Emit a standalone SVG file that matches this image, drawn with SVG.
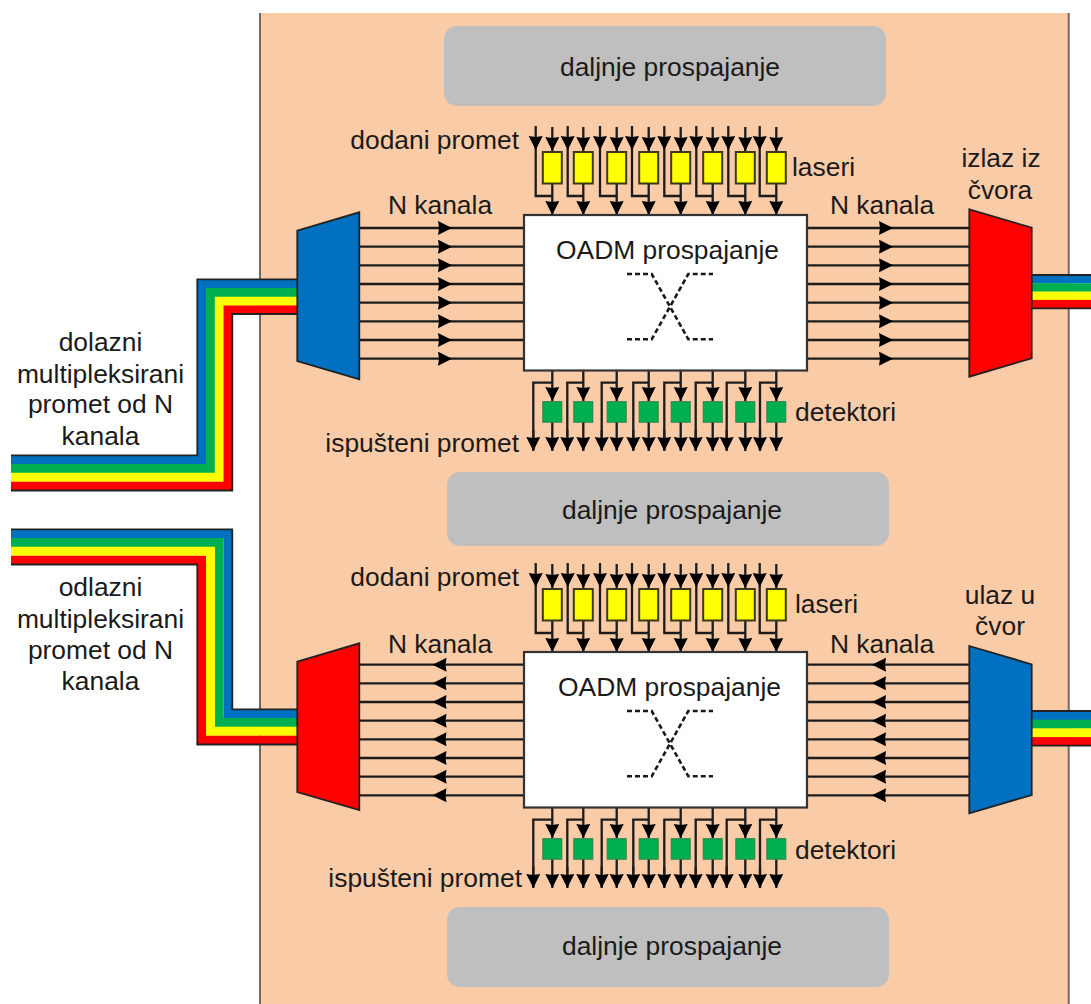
<svg xmlns="http://www.w3.org/2000/svg" width="1091" height="1004" viewBox="0 0 1091 1004">
<style>
text{font-family:"Liberation Sans",Arial,sans-serif;font-size:26.4px;fill:#1a1a1a}
.m{text-anchor:middle}.e{text-anchor:end}
.l{stroke:#1c1c1c;stroke-width:2.3;fill:none}
.a{marker-end:url(#h)}.k{marker-mid:url(#h)}
.box{fill:#fff;stroke:#333;stroke-width:2.2}
.gray{fill:#bfbfbf}
.y{fill:#ffff00;stroke:#3a3a1a;stroke-width:2}
.g{fill:#00b050;stroke:#2f7f4a;stroke-width:1}
.blue{fill:#0070c0;stroke:#222;stroke-width:1.8}
.red{fill:#ff0000;stroke:#222;stroke-width:1.8}
.r{fill:none;stroke-width:8.9;stroke-miterlimit:10}
.edge{fill:none;stroke:#222;stroke-width:1.8}
.d{fill:none;stroke:#1a1a1a;stroke-width:2.6;stroke-dasharray:5 3}
</style>
<defs>
<marker id="h" markerUnits="userSpaceOnUse" markerWidth="15" markerHeight="15" refX="14" refY="7" orient="auto"><path d="M0,0L14,7L0,14L1,7Z" fill="#000"/></marker>
<g id="c-add">
<path class="l" d="M535.7,150V196H552.3M567.7,150V196H583.3M600,150V196H616.7M632,150V196H648.7M664.3,150V196H680.7M696.3,150V196H712.7M728.3,150V196H745.3M759.7,150V196H776.3"/>
<line class="l a" x1="535.7" y1="126" x2="535.7" y2="150"/><line class="l a" x1="567.7" y1="126" x2="567.7" y2="150"/><line class="l a" x1="600" y1="126" x2="600" y2="150"/><line class="l a" x1="632" y1="126" x2="632" y2="150"/><line class="l a" x1="664.3" y1="126" x2="664.3" y2="150"/><line class="l a" x1="696.3" y1="126" x2="696.3" y2="150"/><line class="l a" x1="728.3" y1="126" x2="728.3" y2="150"/><line class="l a" x1="759.7" y1="126" x2="759.7" y2="150"/>
<line class="l a" x1="552.3" y1="127" x2="552.3" y2="151"/><line class="l a" x1="583.3" y1="127" x2="583.3" y2="151"/><line class="l a" x1="616.7" y1="127" x2="616.7" y2="151"/><line class="l a" x1="648.7" y1="127" x2="648.7" y2="151"/><line class="l a" x1="680.7" y1="127" x2="680.7" y2="151"/><line class="l a" x1="712.7" y1="127" x2="712.7" y2="151"/><line class="l a" x1="745.3" y1="127" x2="745.3" y2="151"/><line class="l a" x1="776.3" y1="127" x2="776.3" y2="151"/>
<line class="l a" x1="552.3" y1="184" x2="552.3" y2="215"/><line class="l a" x1="583.3" y1="184" x2="583.3" y2="215"/><line class="l a" x1="616.7" y1="184" x2="616.7" y2="215"/><line class="l a" x1="648.7" y1="184" x2="648.7" y2="215"/><line class="l a" x1="680.7" y1="184" x2="680.7" y2="215"/><line class="l a" x1="712.7" y1="184" x2="712.7" y2="215"/><line class="l a" x1="745.3" y1="184" x2="745.3" y2="215"/><line class="l a" x1="776.3" y1="184" x2="776.3" y2="215"/>
</g>
<g id="c-drop">
<path class="l" d="M552.3,382.700H533.3V450M583.3,382.700H567.3V450M616.7,382.700H601.7V450M648.7,382.700H633.3V450M680.7,382.700H664.3V450M712.7,382.700H695.7V450M745.3,382.700H726.7V450M776.3,382.700H760V450"/>
<line class="l a" x1="533.3" y1="430" x2="533.3" y2="451"/><line class="l a" x1="567.3" y1="430" x2="567.3" y2="451"/><line class="l a" x1="601.7" y1="430" x2="601.7" y2="451"/><line class="l a" x1="633.3" y1="430" x2="633.3" y2="451"/><line class="l a" x1="664.3" y1="430" x2="664.3" y2="451"/><line class="l a" x1="695.7" y1="430" x2="695.7" y2="451"/><line class="l a" x1="726.7" y1="430" x2="726.7" y2="451"/><line class="l a" x1="760" y1="430" x2="760" y2="451"/>
<line class="l a" x1="552.3" y1="371" x2="552.3" y2="401"/><line class="l a" x1="583.3" y1="371" x2="583.3" y2="401"/><line class="l a" x1="616.7" y1="371" x2="616.7" y2="401"/><line class="l a" x1="648.7" y1="371" x2="648.7" y2="401"/><line class="l a" x1="680.7" y1="371" x2="680.7" y2="401"/><line class="l a" x1="712.7" y1="371" x2="712.7" y2="401"/><line class="l a" x1="745.3" y1="371" x2="745.3" y2="401"/><line class="l a" x1="776.3" y1="371" x2="776.3" y2="401"/>
<line class="l a" x1="552.3" y1="422" x2="552.3" y2="451"/><line class="l a" x1="583.3" y1="422" x2="583.3" y2="451"/><line class="l a" x1="616.7" y1="422" x2="616.7" y2="451"/><line class="l a" x1="648.7" y1="422" x2="648.7" y2="451"/><line class="l a" x1="680.7" y1="422" x2="680.7" y2="451"/><line class="l a" x1="712.7" y1="422" x2="712.7" y2="451"/><line class="l a" x1="745.3" y1="422" x2="745.3" y2="451"/><line class="l a" x1="776.3" y1="422" x2="776.3" y2="451"/>
</g>
<g id="lasers"><rect class="y" x="542.8" y="152" width="19" height="31.500"/><rect class="y" x="573.8" y="152" width="19" height="31.500"/><rect class="y" x="607.200" y="152" width="19" height="31.500"/><rect class="y" x="639.200" y="152" width="19" height="31.500"/><rect class="y" x="671.200" y="152" width="19" height="31.500"/><rect class="y" x="703.200" y="152" width="19" height="31.500"/><rect class="y" x="735.800" y="152" width="19" height="31.500"/><rect class="y" x="766.800" y="152" width="19" height="31.500"/></g>
<g id="dets"><rect class="g" x="542.8" y="401.700" width="19" height="20.500"/><rect class="g" x="573.8" y="401.700" width="19" height="20.500"/><rect class="g" x="607.200" y="401.700" width="19" height="20.500"/><rect class="g" x="639.200" y="401.700" width="19" height="20.500"/><rect class="g" x="671.200" y="401.700" width="19" height="20.500"/><rect class="g" x="703.200" y="401.700" width="19" height="20.500"/><rect class="g" x="735.800" y="401.700" width="19" height="20.500"/><rect class="g" x="766.800" y="401.700" width="19" height="20.500"/></g>
<path id="cross" class="d" d="M627,274H651.700L688.300,339.300H713M627,339.300H651.700L688.300,274H713"/>
</defs>
<rect x="260" y="13" width="808.700" height="1000" fill="#facba7"/>
<path d="M260,13V1004M1068.700,13V1004" fill="none" stroke="#6a6a6a" stroke-width="2"/>

<g id="ribbon-in-top">
<path class="r" stroke="#0070c0" d="M11,459.700H201.700V283.700H298"/><path class="r" stroke="#00b050" d="M11,468.500H210.500V292.500H298"/><path class="r" stroke="#ffff00" d="M11,477.300H219.300V301.300H298"/><path class="r" stroke="#ff0000" d="M11,486.100H228V310H298"/>
<path class="edge" d="M11,455.300H197.300V279.300H298M298,314H232.300V490.500H11"/>
</g>
<g id="ribbon-out-left">
<path class="r" stroke="#0070c0" d="M11,533.700H228V713.700H298"/><path class="r" stroke="#00b050" d="M11,542.500H219.200V722.500H298"/><path class="r" stroke="#ffff00" d="M11,551.300H210.400V731.300H298"/><path class="r" stroke="#ff0000" d="M11,560.100H201.600V740.100H298"/>
<path class="edge" d="M11,529.300H232.300V709.300H298M298,744.500H197.300V564.500H11"/>
</g>
<g id="ribbon-right-top">
<rect x="1031" y="275" width="60" height="8.500" fill="#0070c0"/><rect x="1031" y="283.300" width="60" height="8.500" fill="#00b050"/><rect x="1031" y="291.600" width="60" height="8.500" fill="#ffff00"/><rect x="1031" y="299.900" width="60" height="8.500" fill="#ff0000"/>
<path class="edge" d="M1031,275H1091M1031,308.300H1091"/>
</g>
<g id="ribbon-right-bottom">
<rect x="1031" y="711" width="60" height="9" fill="#0070c0"/><rect x="1031" y="719.700" width="60" height="9" fill="#00b050"/><rect x="1031" y="728.400" width="60" height="9" fill="#ffff00"/><rect x="1031" y="737.100" width="60" height="8.600" fill="#ff0000"/>
<path class="edge" d="M1031,711H1091M1031,745.700H1091"/>
</g>

<g id="connectors">
<use href="#c-add"/><use href="#c-drop"/>
<use href="#c-add" y="437"/><use href="#c-drop" y="437"/>
<g id="top-left">
<path class="l k" d="M359,228H452H524"/><path class="l k" d="M359,246.700H452H524"/><path class="l k" d="M359,265.300H452H524"/><path class="l k" d="M359,284H452H524"/><path class="l k" d="M359,302.700H452H524"/><path class="l k" d="M359,321.300H452H524"/><path class="l k" d="M359,340H452H524"/><path class="l k" d="M359,358.700H452H524"/>
</g>
<g id="top-right">
<path class="l k" d="M807,228H893H969"/><path class="l k" d="M807,246.700H893H969"/><path class="l k" d="M807,265.300H893H969"/><path class="l k" d="M807,284H893H969"/><path class="l k" d="M807,302.700H893H969"/><path class="l k" d="M807,321.300H893H969"/><path class="l k" d="M807,340H893H969"/><path class="l k" d="M807,358.700H893H969"/>
</g>
<g id="bottom-left">
<path class="l k" d="M524,664.700H432.500H359"/><path class="l k" d="M524,683.300H432.500H359"/><path class="l k" d="M524,702H432.500H359"/><path class="l k" d="M524,720.700H432.500H359"/><path class="l k" d="M524,739.300H432.500H359"/><path class="l k" d="M524,758H432.500H359"/><path class="l k" d="M524,776.700H432.500H359"/><path class="l k" d="M524,795.300H432.500H359"/>
</g>
<g id="bottom-right">
<path class="l k" d="M969,664.700H872H807"/><path class="l k" d="M969,683.300H872H807"/><path class="l k" d="M969,702H872H807"/><path class="l k" d="M969,720.700H872H807"/><path class="l k" d="M969,739.300H872H807"/><path class="l k" d="M969,758H872H807"/><path class="l k" d="M969,776.700H872H807"/><path class="l k" d="M969,795.300H872H807"/>
</g>
</g>

<g id="switch-top-further"><rect class="gray" x="444" y="26" width="442" height="80" rx="13"/><text class="m" x="670" y="75.500">daljnje prospajanje</text></g>
<g id="switch-middle-further"><rect class="gray" x="447" y="472" width="442" height="74" rx="13"/><text class="m" x="672" y="518.500">daljnje prospajanje</text></g>
<g id="switch-bottom-further"><rect class="gray" x="447" y="907" width="442" height="80" rx="13"/><text class="m" x="672" y="954.500">daljnje prospajanje</text></g>

<g id="oadm-top"><rect class="box" x="524" y="215" width="283" height="155.500"/><text x="556" y="258.500">OADM prospajanje</text><use href="#cross"/></g>
<g id="oadm-bottom"><rect class="box" x="524" y="652" width="283" height="155.500"/><text x="558" y="695.500">OADM prospajanje</text><use href="#cross" y="437"/></g>

<g id="lasers-top"><use href="#lasers"/><text x="792" y="176">laseri</text></g>
<g id="lasers-bottom"><use href="#lasers" y="437"/><text x="795" y="613">laseri</text></g>
<g id="detectors-top"><use href="#dets"/><text x="795" y="421">detektori</text></g>
<g id="detectors-bottom"><use href="#dets" y="437"/><text x="795" y="859">detektori</text></g>

<g id="demux-top"><polygon class="blue" points="297.300,230.700 359.300,212.300 359.300,379.300 297.300,361"/></g>
<g id="mux-top"><polygon class="red" points="969.300,209.300 1031.700,227.700 1031.700,358.300 969.300,376.700"/></g>
<g id="mux-bottom"><polygon class="red" points="297.300,661.700 359.300,643.300 359.300,810 297.300,792"/></g>
<g id="demux-bottom"><polygon class="blue" points="969.300,646 1031.700,664.300 1031.700,795 969.300,813.300"/></g>

<g id="labels">
<text class="e" x="519" y="149">dodani promet</text>
<text class="e" x="519" y="452">ispušteni promet</text>
<text class="e" x="519" y="586">dodani promet</text>
<text class="e" x="522" y="887">ispušteni promet</text>
<text class="m" x="440" y="213.500">N kanala</text>
<text class="m" x="882" y="213.500">N kanala</text>
<text class="m" x="440" y="652.500">N kanala</text>
<text class="m" x="882" y="652.500">N kanala</text>
<text class="m" x="1001" y="167">izlaz iz</text>
<text class="m" x="1000" y="199">čvora</text>
<text class="m" x="1000" y="604">ulaz u</text>
<text class="m" x="1000" y="635">čvor</text>
<text class="m" x="100.500" y="351">dolazni</text>
<text class="m" x="100.500" y="382.500">multipleksirani</text>
<text class="m" x="100.500" y="413">promet od N</text>
<text class="m" x="100.500" y="445">kanala</text>
<text class="m" x="100.500" y="596">odlazni</text>
<text class="m" x="100.500" y="627.500">multipleksirani</text>
<text class="m" x="100.500" y="659">promet od N</text>
<text class="m" x="100.500" y="690">kanala</text>
</g>
</svg>
